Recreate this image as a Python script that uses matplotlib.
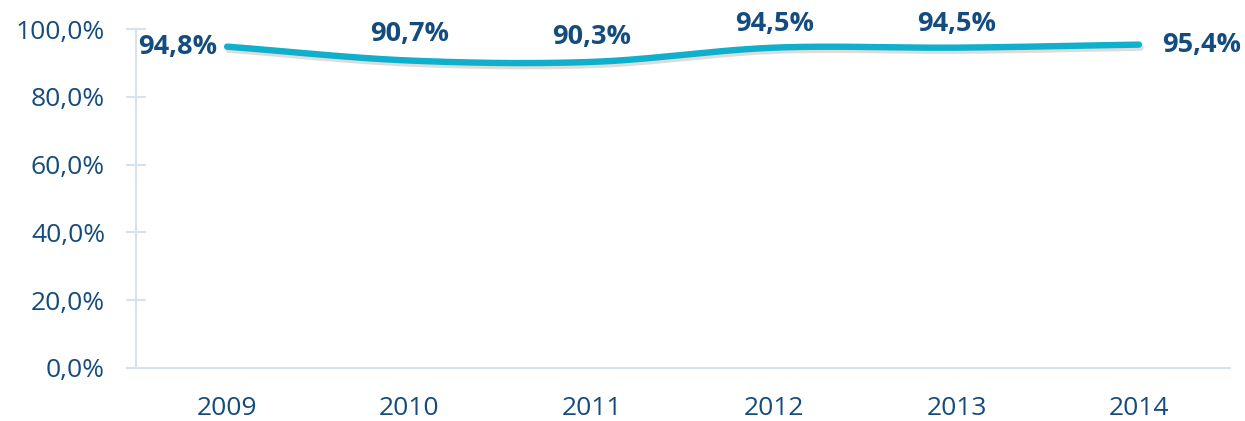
import numpy as np
import matplotlib
matplotlib.use("Agg")
import matplotlib.pyplot as plt
import matplotlib.patheffects as pe

# data
years = ["2009", "2010", "2011", "2012", "2013", "2014"]
values = [94.8, 90.7, 90.3, 94.5, 94.5, 95.4]
labels = ["94,8%", "90,7%", "90,3%", "94,5%", "94,5%", "95,4%"]
y_ticks = [0, 20, 40, 60, 80, 100]

dark_blue = "#154C7E"
line_color = "#0EB0CC"
axis_color = "#D5E3F1"

plt.rcParams["font.family"] = ["Open Sans", "DejaVu Sans"]


def smooth(xs, ys, n=40):
    # Catmull-Rom style smoothing similar to a spreadsheet "smoothed line"
    xs = np.asarray(xs, float)
    ys = np.asarray(ys, float)
    px = np.concatenate([[2 * xs[0] - xs[1]], xs, [2 * xs[-1] - xs[-2]]])
    py = np.concatenate([[2 * ys[0] - ys[1]], ys, [2 * ys[-1] - ys[-2]]])
    out_x, out_y = [], []
    t = np.linspace(0, 1, n)
    for i in range(1, len(px) - 2):
        for arr, out in ((px, out_x), (py, out_y)):
            p0, p1, p2, p3 = arr[i - 1], arr[i], arr[i + 1], arr[i + 2]
            seg = 0.5 * ((2 * p1) + (-p0 + p2) * t
                         + (2 * p0 - 5 * p1 + 4 * p2 - p3) * t ** 2
                         + (-p0 + 3 * p1 - 3 * p2 + p3) * t ** 3)
            out.extend(seg)
    return np.array(out_x), np.array(out_y)


fig = plt.figure(figsize=(12.45, 4.21), dpi=100)
ax = fig.add_axes([0.1092, 0.1259, 0.8788, 0.8052])

x = np.arange(len(years))
sx, sy = smooth(x, values)
ax.plot(sx, sy, color=line_color, lw=4.6, solid_capstyle="round",
        path_effects=[pe.SimpleLineShadow(offset=(1.2, -2.2), shadow_color="#777777", alpha=0.25),
                      pe.Normal()])

# data labels
offsets = [(-7, 0, "right"), (0, 19, "center"), (0, 18, "center"),
           (0, 17, "center"), (0, 17, "center"), (16.5, 0, "left")]
for xi, v, lab, (dx, dy, ha) in zip(x, values, labels, offsets):
    ax.annotate(lab, (xi, v), xytext=(dx, dy), textcoords="offset points",
                ha=ha, va="center", fontsize=19.5, fontweight="bold", color=dark_blue)

ax.set_xlim(-0.5, len(years) - 0.5)
ax.set_ylim(0, 100)
ax.set_xticks(x)
ax.set_xticklabels(years)
ax.set_yticks(y_ticks)
ax.set_yticklabels([f"{t:.1f}%".replace(".", ",") for t in y_ticks])

for side in ["top", "right"]:
    ax.spines[side].set_visible(False)
for side in ["left", "bottom"]:
    ax.spines[side].set_color(axis_color)
    ax.spines[side].set_linewidth(1.5)

ax.tick_params(axis="y", direction="inout", length=14.4, width=1.5, color=axis_color,
               labelsize=19, labelcolor=dark_blue, pad=15)
ax.tick_params(axis="x", length=0, labelsize=19, labelcolor=dark_blue, pad=20)

fig.savefig("out.png", dpi=100)
